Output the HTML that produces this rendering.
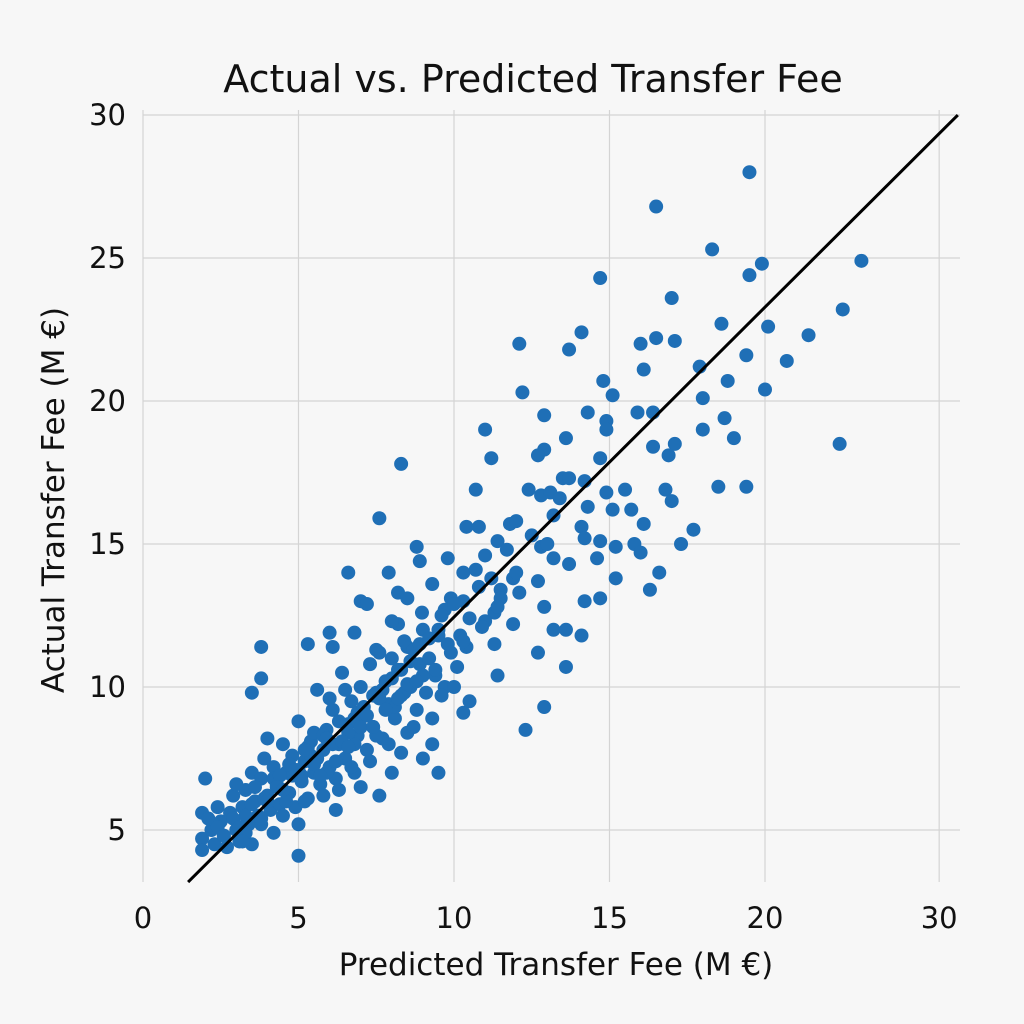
<!DOCTYPE html>
<html><head><meta charset="utf-8"><style>
html,body{margin:0;padding:0;background:#f7f7f7;}
svg{display:block;font-family:"DejaVu Sans","Liberation Sans",sans-serif;}
</style></head><body>
<svg id="chart" width="1024" height="1024" viewBox="0 0 1024 1024" xmlns="http://www.w3.org/2000/svg">
<rect width="1024" height="1024" fill="#f7f7f7"/>
<text x="533" y="92" text-anchor="middle" font-size="38" fill="#111">Actual vs. Predicted Transfer Fee</text>
<text x="556" y="975" text-anchor="middle" font-size="31" fill="#111">Predicted Transfer Fee (M €)</text>
<text transform="translate(64,500) rotate(-90)" text-anchor="middle" font-size="31" fill="#111">Actual Transfer Fee (M €)</text>
<g id="grid"></g><g id="ticks"></g><g id="points"></g><g id="ref"></g>
</svg>
<script>
const xTickValues=[0,5,10,15,20,25.6];
const xTickLabels=["0","5","10","15","20","30"];
const yTickValues=[5,10,15,20,25,30];
const yTickLabels=["5","10","15","20","25","30"];
const refLineX=[1.45,26.2];
const refLineY=[3.18,30];
const predicted=[19.5,16.5,18.3,14.7,23.1,19.9,19.5,17.0,22.5,18.6,14.1,16.5,17.1,12.1,13.7,16.0,21.4,20.1,19.4,20.7,17.9,16.1,18.8,14.8,12.2,15.1,20.0,18.0,14.3,12.9,15.9,16.4,18.7,11.0,18.0,14.9,14.9,19.0,13.6,16.4,12.9,17.1,16.9,22.4,12.7,11.2,8.3,14.7,13.5,13.7,14.2,10.7,12.4,18.5,19.4,14.9,15.5,16.8,17.0,12.8,13.1,14.3,15.1,15.7,7.6,13.2,17.7,16.1,10.4,10.8,11.8,12.0,14.1,11.4,14.2,14.7,17.3,15.2,15.8,8.8,12.8,11.0,9.8,8.9,13.2,14.6,16.0,13.7,6.6,7.9,10.3,10.7,16.6,11.9,15.2,9.3,12.7,8.2,11.5,7.0,8.5,10.3,9.9,14.2,14.7,16.3,8.97,9.7,11.3,12.9,6.0,6.8,8.2,9.5,11.9,3.8,5.3,7.5,8.5,13.2,13.6,14.1,11.3,10.4,12.7,3.8,13.6,3.5,11.4,12.9,10.3,12.3,9.5,5.0,2.0,1.9,1.9,
2.2,2.3,2.5,2.6,2.8,2.9,3.0,3.1,3.2,3.3,3.4,3.5,3.6,3.7,3.8,3.9,4.0,4.1,4.2,4.3,4.4,4.5,4.6,4.7,4.8,4.9,5.0,5.1,5.2,5.3,5.4,5.5,5.6,5.7,5.8,5.9,6.0,6.1,6.2,6.3,6.4,6.5,6.6,6.7,6.8,6.9,7.0,7.1,7.2,7.3,7.4,7.5,7.6,7.7,7.8,7.9,8.0,8.1,8.2,8.3,8.4,8.5,8.6,8.7,8.8,8.9,9.0,9.1,9.2,9.3,9.4,9.5,9.6,9.7,9.8,10.0,10.1,10.2,10.5,10.8,11.0,11.2,11.5,11.7,12.0,12.5,13.0,13.4,
1.9,2.4,2.7,3.0,3.5,3.8,4.0,4.5,4.8,5.0,5.2,5.5,5.8,6.0,6.2,6.5,6.8,7.0,7.3,7.6,8.0,8.3,8.7,9.0,9.3,4.2,3.3,2.1,4.6,5.4,6.7,7.5,5.9,6.3,7.9,8.4,9.6,10.5,10.0,8.0,7.2,6.1,
2.4,2.9,3.3,3.6,3.9,4.2,4.4,4.7,5.0,5.3,5.6,5.8,6.1,6.3,6.6,6.9,7.1,7.4,7.7,8.0,8.3,8.6,8.9,9.2,2.6,3.1,3.5,4.0,4.3,4.9,5.2,5.5,5.9,6.4,6.8,7.2,7.6,8.1,8.5,9.0,3.2,3.8,4.5,5.1,5.7,6.2,6.6,7.0,7.4,7.8,8.2,8.8,9.4,9.9,10.3,10.9,11.4,12.1];
const actual=[28.0,26.8,25.3,24.3,24.9,24.8,24.4,23.6,23.2,22.7,22.4,22.2,22.1,22.0,21.8,22.0,22.3,22.6,21.6,21.4,21.2,21.1,20.7,20.7,20.3,20.2,20.4,20.1,19.6,19.5,19.6,19.6,19.4,19.0,19.0,19.3,19.0,18.7,18.7,18.4,18.3,18.5,18.1,18.5,18.1,18.0,17.8,18.0,17.3,17.3,17.2,16.9,16.9,17.0,17.0,16.8,16.9,16.9,16.5,16.7,16.8,16.3,16.2,16.2,15.9,16.0,15.5,15.7,15.6,15.6,15.7,15.8,15.6,15.1,15.2,15.1,15.0,14.9,15.0,14.9,14.9,14.6,14.5,14.4,14.5,14.5,14.7,14.3,14.0,14.0,14.0,14.1,14.0,13.8,13.8,13.6,13.7,13.3,13.4,13.0,13.1,13.0,13.1,13.0,13.1,13.4,12.6,12.7,12.6,12.8,11.9,11.9,12.2,12.0,12.2,11.4,11.5,11.3,11.4,12.0,12.0,11.8,11.5,11.4,11.2,10.3,10.7,9.8,10.4,9.3,9.1,8.5,7.0,4.1,6.8,4.7,5.6,
5.0,4.5,5.3,4.8,5.6,6.2,5.0,4.6,5.8,6.4,5.2,7.0,6.0,5.5,6.8,7.5,6.2,5.7,7.2,6.6,5.9,8.0,7.0,6.3,7.6,5.8,8.8,6.9,7.4,6.1,8.1,7.0,9.9,6.6,7.8,8.5,7.2,9.2,6.8,8.0,10.5,7.5,8.7,9.5,7.0,8.3,10.0,9.0,7.8,10.8,8.6,9.8,11.2,8.2,10.2,9.4,11.0,8.9,10.6,9.7,11.6,8.4,10.0,11.3,9.2,10.8,12.0,9.8,11.0,8.9,10.4,11.8,12.5,10.0,11.5,12.9,10.7,11.8,12.4,13.5,12.3,13.8,13.1,14.8,14.0,15.3,15.0,16.6,
4.3,5.8,4.4,6.6,4.5,5.2,8.2,5.5,6.9,5.2,6.0,8.4,6.2,9.6,5.7,9.9,8.0,6.5,7.4,6.2,7.0,7.7,8.6,7.5,8.0,4.9,4.9,5.4,6.0,7.6,7.2,8.3,7.0,6.4,8.0,9.8,9.7,9.5,10.0,12.3,12.9,11.4,
5.1,5.4,5.5,6.5,6.1,6.8,6.9,7.3,7.1,7.9,7.5,8.3,8.0,8.8,8.4,9.1,9.3,9.7,9.9,10.3,10.6,10.9,11.5,11.7,4.8,5.1,5.9,6.0,6.5,7.1,7.8,7.3,8.2,8.1,8.9,9.0,9.6,9.3,10.1,10.4,4.6,5.4,6.4,6.7,6.9,7.4,7.9,8.6,8.6,9.2,9.6,10.2,10.6,11.2,11.6,12.1,12.8,13.3];

const NS="http://www.w3.org/2000/svg";
const xs=v=>143+v*31.1;
const ys=v=>830-(v-5)*28.6;
const grid=document.getElementById('grid'),ticks=document.getElementById('ticks'),pts=document.getElementById('points'),ref=document.getElementById('ref');
function mk(tag,attrs){const e=document.createElementNS(NS,tag);for(const k in attrs)e.setAttribute(k,attrs[k]);return e;}
xTickValues.forEach((v,i)=>{
  const l=mk('line',{x1:xs(v),x2:xs(v),y1:110,y2:882,stroke:'#d4d4d4','stroke-width':1.2});
  
  
  grid.appendChild(l);
  const t=mk('text',{x:xs(v),y:928,'text-anchor':'middle','font-size':29,fill:'#111'});
  t.textContent=xTickLabels[i];
  
  
  ticks.appendChild(t);
});
yTickValues.forEach((v,i)=>{
  const l=mk('line',{x1:143,x2:960,y1:ys(v),y2:ys(v),stroke:'#d4d4d4','stroke-width':1.2});
  
  
  grid.appendChild(l);
  const t=mk('text',{x:126,y:ys(v)+10,'text-anchor':'end','font-size':29,fill:'#111'});
  t.textContent=yTickLabels[i];
  
  
  ticks.appendChild(t);
});
predicted.forEach((p,i)=>{
  const c=mk('circle',{cx:xs(p),cy:ys(actual[i]),r:7,fill:'#1f6fb6'});
  
  
  pts.appendChild(c);
});
const rl=mk('line',{x1:xs(refLineX[0]),y1:ys(refLineY[0]),x2:xs(refLineX[1]),y2:ys(refLineY[1]),stroke:'#000','stroke-width':3});


ref.appendChild(rl);
</script>
</body></html>
